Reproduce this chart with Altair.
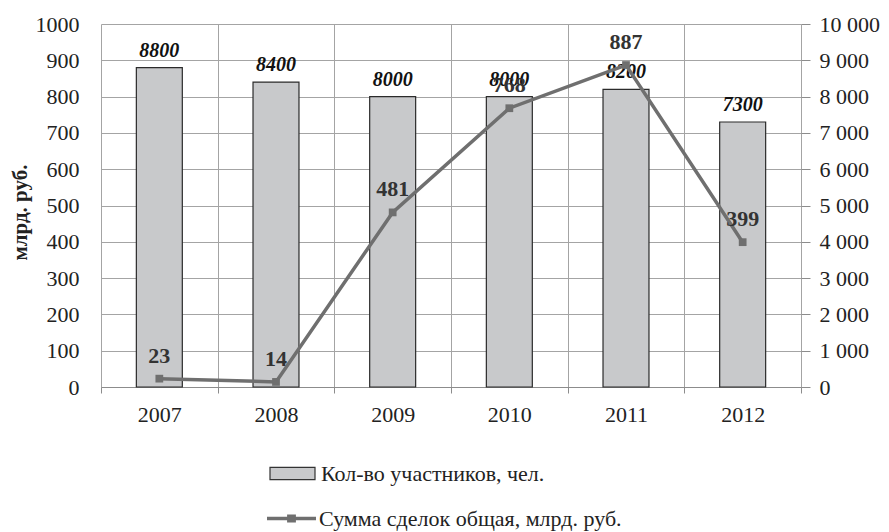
import altair as alt
import pandas as pd

years = ["2007", "2008", "2009", "2010", "2011", "2012"]
participants = [8800, 8400, 8000, 8000, 8200, 7300]
deal_sum = [23, 14, 481, 768, 887, 399]
bar_name = "Кол-во участников, чел."
line_name = "Сумма сделок общая, млрд. руб."
left_ticks = list(range(0, 1001, 100))
right_ticks = list(range(0, 10001, 1000))

df = pd.DataFrame({
    "year": years,
    "count": participants,
    "sum": deal_sum,
    "s1": [bar_name] * len(years),
    "s2": [line_name] * len(years),
})

FONT = "Liberation Serif"
GRID = "#a4a4a4"
BAR_FILL = "#c8c9cb"
LINE = "#6f6f6f"

x_enc = alt.X(
    "year:N",
    sort=years,
    scale=alt.Scale(paddingInner=0, paddingOuter=0),
    axis=alt.Axis(
        title=None, labelAngle=0, tickBand="extent", grid=True, gridColor=GRID,
        gridOpacity=1, domainColor="#8c8c8c", tickColor="#8c8c8c", tickSize=6,
        labelPadding=11, labelFont=FONT, labelFontSize=22, labelColor="#222",
    ),
)

y_bar = alt.Y(
    "count:Q",
    scale=alt.Scale(domain=[0, 10000], nice=False),
    axis=alt.Axis(
        orient="right", values=right_ticks, grid=False, domain=False,
        tickSize=9, tickColor="#8c8c8c", labelPadding=9, title=None,
        labelFont=FONT, labelFontSize=22, labelColor="#222",
        labelExpr="replace(format(datum.value, ','), ',', ' ')",
    ),
)

y_line = alt.Y(
    "sum:Q",
    scale=alt.Scale(domain=[0, 1000], nice=False),
    axis=alt.Axis(
        orient="left", values=left_ticks, grid=True, gridColor=GRID, gridOpacity=1,
        ticks=False, domain=False, labelPadding=22, format="d",
        labelFont=FONT, labelFontSize=22, labelColor="#222",
        title="млрд. руб.", titleFont=FONT, titleFontSize=21, titleFontWeight="bold",
        titleColor="#222", titleAngle=-90, titleAlign="center", titleBaseline="bottom",
        titleX=-71, titleY=188,
    ),
)

base = alt.Chart(df)

bars = base.mark_bar(
    width=alt.RelativeBandSize(0.394), stroke="#2b2b2b", strokeWidth=1.2
).encode(
    x=x_enc,
    y=y_bar,
    fill=alt.Fill(
        "s1:N",
        scale=alt.Scale(domain=[bar_name], range=[BAR_FILL]),
        legend=alt.Legend(
            title=None, orient="none", legendX=168, legendY=426, padding=0,
            symbolType="M-1,-0.27L1,-0.27L1,0.27L-1,0.27Z", symbolSize=2025,
            symbolStrokeColor="#333", symbolStrokeWidth=1.2, labelOffset=5,
            labelFont=FONT, labelFontSize=22, labelColor="#222", labelLimit=600,
        ),
    ),
)

bar_text = base.mark_text(
    font=FONT, fontSize=20, fontWeight="bold", fontStyle="italic",
    color="#111", baseline="alphabetic", dy=-11,
).encode(x=x_enc, y=y_bar, text=alt.Text("count:Q", format="d"))

line = base.mark_line(color=LINE, strokeWidth=3.5).encode(x=x_enc, y=y_line)

points = base.mark_point(filled=True, shape="square", size=60, opacity=1).encode(
    x=x_enc,
    y=y_line,
    color=alt.Color(
        "s2:N",
        scale=alt.Scale(domain=[line_name], range=[LINE]),
        legend=alt.Legend(
            title=None, orient="none", legendX=166, legendY=470, padding=0,
            symbolType="M-1,-0.07L1,-0.07L1,0.07L-1,0.07Z M-0.18,-0.16L0.18,-0.16L0.18,0.16L-0.18,0.16Z",
            symbolSize=2401, symbolStrokeWidth=0, symbolOpacity=1, labelOffset=3,
            labelFont=FONT, labelFontSize=22, labelColor="#222", labelLimit=600,
        ),
    ),
)

line_text = base.mark_text(
    font=FONT, fontSize=22, fontWeight="bold", color="#333",
    baseline="alphabetic", dy=-16,
).encode(x=x_enc, y=y_line, text=alt.Text("sum:Q", format="d"))

bar_layer = alt.layer(bars, bar_text)
line_layer = alt.layer(line, points, line_text)

chart = (
    alt.layer(bar_layer, line_layer)
    .resolve_scale(y="independent", fill="independent", color="independent")
    .properties(
        width=700, height=363,
        autosize=alt.AutoSizeParams(type="none"),
        padding={"left": 93, "top": 16, "right": 80, "bottom": 145},
        background="white",
    )
    .configure_view(stroke=None)
)

chart.save("out.html", embed_options={"renderer": "svg", "actions": False})
